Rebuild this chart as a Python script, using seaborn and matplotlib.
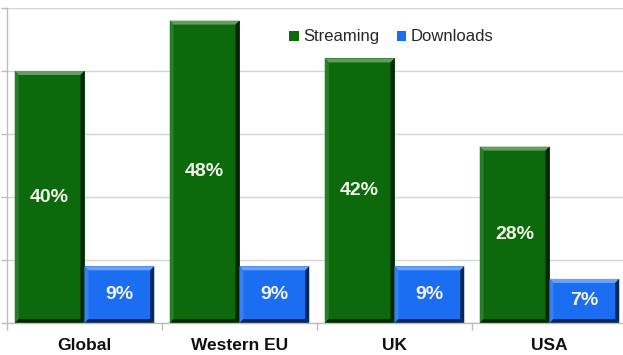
import matplotlib
matplotlib.use("Agg")
import matplotlib.pyplot as plt
from matplotlib.patches import Polygon
import matplotlib.colors as mcolors
import seaborn as sns
import pandas as pd

regions = ["Global", "Western EU", "UK", "USA"]
streaming = [40, 48, 42, 28]
downloads = [9, 9, 9, 7]
series_names = ["Streaming", "Downloads"]
series_colors = ["#0c6a0c", "#1b6ef2"]

df = pd.DataFrame({
    "region": regions * 2,
    "share": streaming + downloads,
    "series": [series_names[0]] * len(regions) + [series_names[1]] * len(regions),
})

sns.set_theme(style="white")
plt.rcParams["font.family"] = ["Liberation Sans", "DejaVu Sans"]

fig = plt.figure(figsize=(6.23, 3.55), dpi=100)
ax = fig.add_axes([7 / 623, 32 / 355, 620 / 623, 315 / 355])

sns.barplot(data=df, x="region", y="share", hue="series", order=regions,
            hue_order=series_names, palette=series_colors, width=0.9,
            saturation=1, linewidth=0, ax=ax, legend=True)

ax.set_ylim(0, 50)
ax.set_xlim(-0.5, 3.5)
ax.set_yticks([0, 10, 20, 30, 40, 50])
ax.set_yticklabels([])
ax.yaxis.grid(True, color="#d4d4d4", linewidth=1.0)
ax.set_axisbelow(True)
ax.set_xlabel("")
ax.set_ylabel("")

for side in ["top", "right"]:
    ax.spines[side].set_visible(False)
for side in ["left", "bottom"]:
    ax.spines[side].set_color("#bdbdbd")
    ax.spines[side].set_linewidth(1.0)

ax.tick_params(axis="y", left=True, length=4, color="#bdbdbd", width=1)
ax.set_xticks(range(len(regions)))
ax.set_xticklabels(regions, fontsize=12.5, fontweight="bold", color="#111111")
ax.tick_params(axis="x", bottom=False, pad=5)
ax.set_xticks([-0.5, 0.5, 1.5, 2.5], minor=True)
ax.tick_params(axis="x", which="minor", bottom=True, length=5, color="#bdbdbd", width=1)

# bevelled look: light top rim, dark right/bottom rim
fig.canvas.draw()
bars = [p for p in ax.patches if p.get_height() > 0]
b = 4.0
for p in bars:
    base = mcolors.to_rgb(p.get_facecolor())
    light = tuple(min(1, c + (1 - c) * 0.35) for c in base)
    mid = tuple(min(1, c + (1 - c) * 0.12) for c in base)
    dark = tuple(c * 0.35 for c in base)
    x0, y0 = ax.transData.transform((p.get_x(), 0))
    x1, y1 = ax.transData.transform((p.get_x() + p.get_width(), p.get_height()))
    top = [(x0, y1), (x1, y1), (x1 - b, y1 - b), (x0 + b, y1 - b)]
    left = [(x0, y0), (x0, y1), (x0 + b, y1 - b), (x0 + b, y0 + b)]
    right = [(x1, y0), (x1, y1), (x1 - b, y1 - b), (x1 - b, y0 + b)]
    bottom = [(x0, y0), (x1, y0), (x1 - b, y0 + b), (x0 + b, y0 + b)]
    for pts, col in [(top, light), (left, mid), (right, dark), (bottom, dark)]:
        ax.add_patch(Polygon(pts, closed=True, facecolor=col, edgecolor="none",
                             transform=None, zorder=p.get_zorder() + 0.1))

for container in ax.containers:
    ax.bar_label(container, labels=[f"{v:.0f}%" for v in container.datavalues],
                 label_type="center", fontsize=14, fontweight="bold",
                 color="#f3f3e8", zorder=10)

handles, labels = ax.get_legend_handles_labels()
ax.legend(handles, labels, loc="center", bbox_to_anchor=(0.62, 0.908), ncol=2,
          frameon=False, fontsize=12, handlelength=0.55, handleheight=0.55,
          handletextpad=0.25, columnspacing=1.1, borderaxespad=0)

fig.savefig("out.png", dpi=100)
